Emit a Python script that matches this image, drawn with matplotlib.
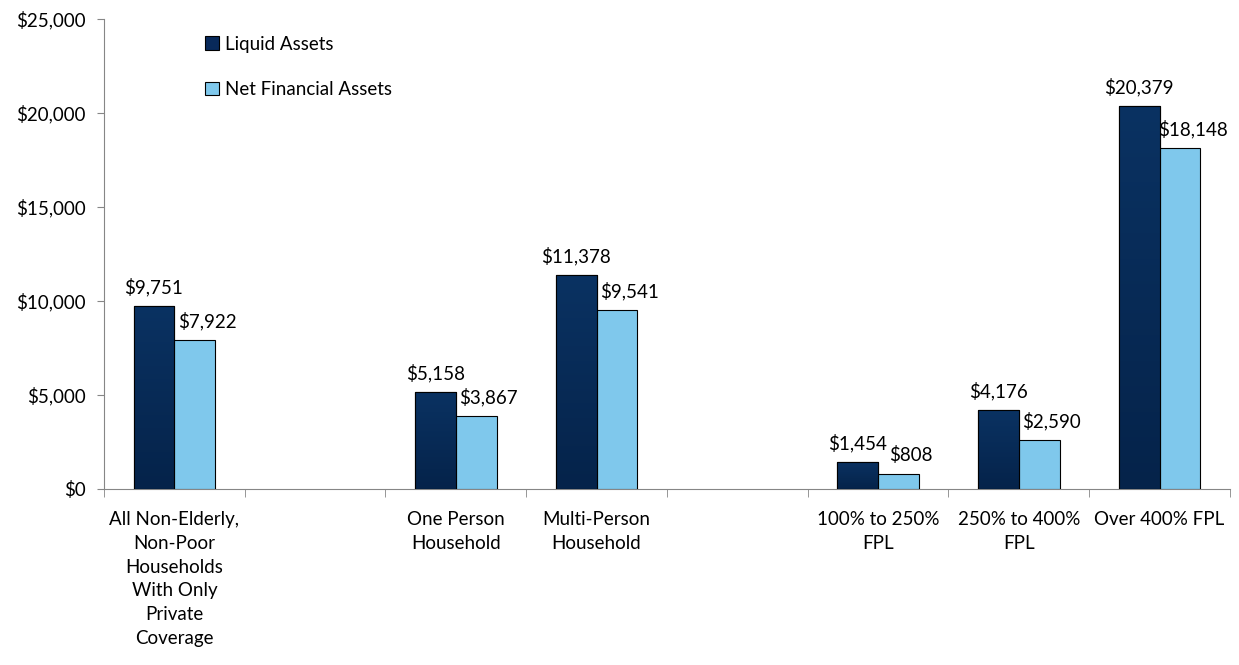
import numpy as np
import matplotlib
matplotlib.use('Agg')
import matplotlib.pyplot as plt
from matplotlib.ticker import FuncFormatter, FixedLocator

plt.rcParams['font.family'] = ['Lato', 'DejaVu Sans']

# Data (empty strings are the spacer slots between groups)
categories = ['All Non-Elderly,\nNon-Poor\nHouseholds\nWith Only\nPrivate\nCoverage',
              '',
              'One Person\nHousehold',
              'Multi-Person\nHousehold',
              '',
              '100% to 250%\nFPL',
              '250% to 400%\nFPL',
              'Over 400% FPL']
liquid_assets = [9751, np.nan, 5158, 11378, np.nan, 1454, 4176, 20379]
net_financial_assets = [7922, np.nan, 3867, 9541, np.nan, 808, 2590, 18148]

dark = '#08295a'
light = '#7fc8ec'
fs = 13.5

fig = plt.figure(figsize=(12.39, 6.65), dpi=100)
ax = fig.add_axes([0.0839, 0.2647, 0.9088, 0.7067])

x = np.arange(len(categories))
w = 0.29

bars1 = ax.bar(x - w / 2, liquid_assets, w, color=dark, edgecolor='black',
               linewidth=0.8, label='Liquid Assets', zorder=3)
bars2 = ax.bar(x + w / 2, net_financial_assets, w, color=light, edgecolor='black',
               linewidth=0.8, label='Net Financial Assets', zorder=3)

# subtle vertical gradient on the dark bars
grad = np.linspace(0, 1, 256).reshape(-1, 1)
cmap = matplotlib.colors.LinearSegmentedColormap.from_list('g', ['#05234a', '#0a3262'])
for b in bars1:
    h = b.get_height()
    if np.isnan(h):
        continue
    im = ax.imshow(grad, extent=[b.get_x(), b.get_x() + b.get_width(), 0, h],
                   origin='lower', aspect='auto', cmap=cmap, zorder=3.5)
    im.set_clip_path(b)
    ax.bar(b.get_x() + b.get_width() / 2, h, b.get_width(), fill=False,
           edgecolor='black', linewidth=0.8, zorder=4)

for b, v in zip(bars1, liquid_assets):
    if not np.isnan(v):
        ax.annotate(f'${v:,.0f}', (b.get_x() + b.get_width() / 2, v),
                    xytext=(0, 7), textcoords='offset points',
                    ha='center', va='bottom', fontsize=fs)
for b, v in zip(bars2, net_financial_assets):
    if not np.isnan(v):
        ax.annotate(f'${v:,.0f}', (b.get_x() + b.get_width() / 2, v),
                    xytext=(9, 7), textcoords='offset points',
                    ha='center', va='bottom', fontsize=fs)

ax.set_xlim(-0.5, len(categories) - 0.5)
ax.set_ylim(0, 25000)
ax.set_yticks(np.arange(0, 25001, 5000))
ax.yaxis.set_major_formatter(FuncFormatter(lambda v, p: f'${v:,.0f}'))

ax.set_xticks(x)
ax.set_xticklabels(categories, fontsize=fs, linespacing=1.48)
ax.xaxis.set_minor_locator(FixedLocator(np.arange(-0.5, len(categories), 1.0)))
ax.tick_params(axis='x', which='major', length=0, pad=16)
ax.tick_params(axis='x', which='minor', length=6, color='#868686', direction='out')
ax.tick_params(axis='y', length=5, color='#868686', labelsize=fs, pad=8)

for s in ['top', 'right']:
    ax.spines[s].set_visible(False)
for s in ['left', 'bottom']:
    ax.spines[s].set_color('#868686')

ax.legend(loc='upper left', bbox_to_anchor=(0.075, 1.0), frameon=False,
          fontsize=fs, labelspacing=1.5, handlelength=0.75, handleheight=0.75,
          handletextpad=0.3)

fig.savefig('out.png', dpi=100)
